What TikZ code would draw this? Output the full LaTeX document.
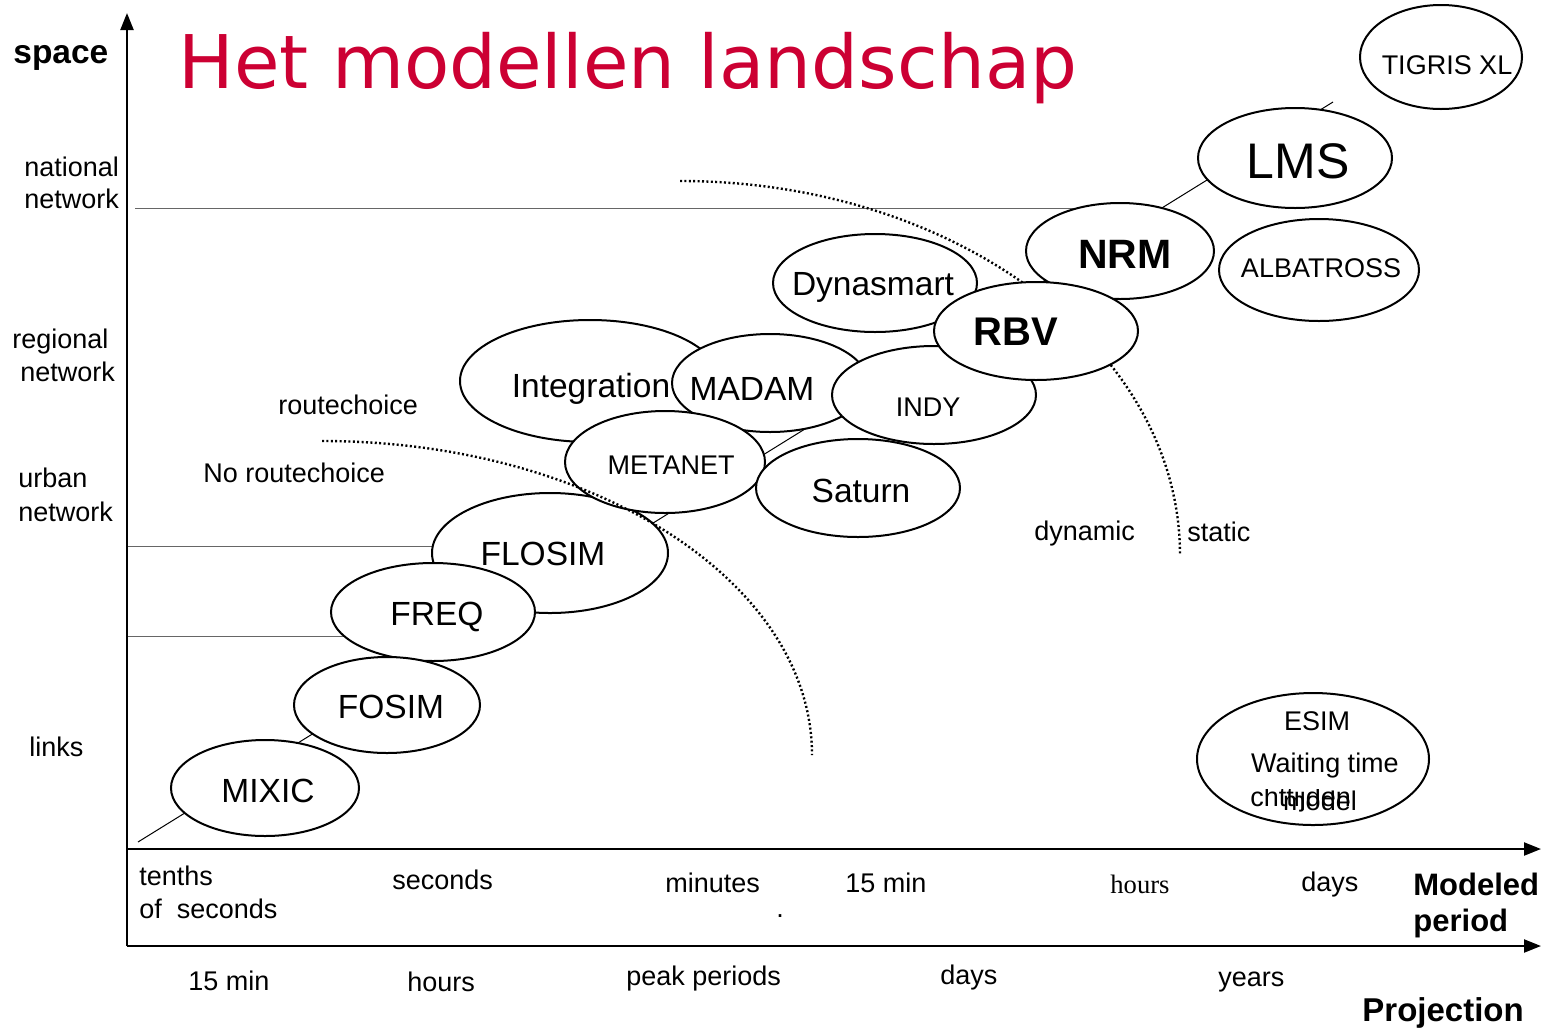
\documentclass[tikz,border=0pt]{standalone}
\usepackage{fontspec}
\setmainfont{Liberation Sans}
\newfontfamily\titlefont{DejaVu Sans}
\newfontfamily\timesfont{Liberation Serif}
\usetikzlibrary{shapes.geometric,arrows.meta}
\definecolor{titlered}{RGB}{204,0,51}
\newcommand\fs[1]{\fontsize{#1}{#1}\selectfont}
\pgfdeclarelayer{background}
\pgfsetlayers{background,main}
\begin{document}
\begin{tikzpicture}[x=0.5pt,y=-0.5pt,
  model/.style={ellipse,draw,line width=1pt,fill=white,inner sep=0pt},
  lbl/.style={inner sep=0pt,anchor=base west,font=\fs{13.5pt}},
  mtxt/.style={inner sep=0pt,anchor=base},
  axisline/.style={line width=1.1pt,-{Triangle[length=8.5pt,width=6.5pt]}},
  guide/.style={line width=0.5pt,black!60},
  diag/.style={line width=0.5pt,black},
  border/.style={line width=1.2pt,dash pattern=on 1pt off 1.2pt}]
\useasboundingbox (0,0) rectangle (1542,1029);

% title
\node[anchor=base west,inner sep=0pt,font=\titlefont\fs{37pt},text=titlered] (title) at (178,88) {Het modellen landschap};

% models (stacking order)
\node[model,minimum width=81pt,minimum height=52pt] (tigris) at (1441,57) {};
\node[mtxt,font=\fs{13.5pt}] (tigris-t) at (1447,74) {TIGRIS XL};
\node[model,minimum width=97pt,minimum height=50pt] (lms) at (1295,158) {};
\node[mtxt,font=\fs{25pt}] (lms-t) at (1298,178) {LMS};
\node[model,minimum width=100pt,minimum height=51pt] (albatross) at (1319,270) {};
\node[mtxt,font=\fs{13.5pt}] (albatross-t) at (1321,277) {ALBATROSS};
\node[model,minimum width=94pt,minimum height=48pt] (nrm) at (1120,251) {};
\node[mtxt,font=\bfseries\fs{20.5pt}] (nrm-t) at (1125,268) {NRM};
\node[model,minimum width=102pt,minimum height=49pt] (dynasmart) at (875,283) {};
\node[mtxt,font=\fs{16.75pt}] (dynasmart-t) at (873,295) {Dynasmart};
\node[model,minimum width=130pt,minimum height=61pt] (integration) at (590,381) {};
\node[mtxt,font=\fs{16.75pt}] (integration-t) at (591,397) {Integration};
\node[model,minimum width=98pt,minimum height=49pt] (madam) at (770,383) {};
\node[mtxt,font=\fs{16.75pt}] (madam-t) at (752,400) {MADAM};
\node[model,minimum width=102pt,minimum height=49pt] (indy) at (934,395) {};
\node[mtxt,font=\fs{13.5pt}] (indy-t) at (928,416) {INDY};
\node[model,minimum width=102pt,minimum height=49pt] (rbv) at (1036,331) {};
\node[mtxt,font=\bfseries\fs{20pt}] (rbv-t) at (1016,345) {RBV};
\node[model,minimum width=118pt,minimum height=60pt] (flosim) at (550,553) {};
\node[mtxt,font=\fs{16.75pt}] (flosim-t) at (543,565) {FLOSIM};
\node[model,minimum width=100pt,minimum height=51pt] (metanet) at (665,462) {};
\node[mtxt,font=\fs{13.5pt}] (metanet-t) at (671,474) {METANET};
\node[model,minimum width=102pt,minimum height=49pt] (saturn) at (858,488) {};
\node[mtxt,font=\fs{16.75pt}] (saturn-t) at (861,502) {Saturn};
\node[model,minimum width=102pt,minimum height=49pt] (freq) at (433,612) {};
\node[mtxt,font=\fs{16.75pt}] (freq-t) at (437,625) {FREQ};
\node[model,minimum width=93pt,minimum height=48pt] (fosim) at (387,705) {};
\node[mtxt,font=\fs{16.75pt}] (fosim-t) at (391,718) {FOSIM};
\node[model,minimum width=94pt,minimum height=48pt] (mixic) at (265,788) {};
\node[mtxt,font=\fs{16.75pt}] (mixic-t) at (268,802) {MIXIC};
\node[model,minimum width=116pt,minimum height=66pt] (esim) at (1313,759) {};
\node[mtxt,font=\fs{13.5pt}] (esim-t) at (1317,730) {ESIM};
\node[mtxt,font=\fs{13.5pt}] (esim-w) at (1325,772) {Waiting time};
\begin{scope}
  \clip (1240,789) rectangle (1380,815);
  \node[lbl] (esim-c) at (1250,806) {chttijden};
\end{scope}
\node[mtxt,font=\fs{13.5pt}] (esim-m) at (1320,810) {model};

% background lines behind the models
\coordinate (diagA) at (138,842);
\coordinate (diagB) at (1333,102);
\coordinate (natL) at (135,208);
\coordinate (urbL) at (128,546);
\coordinate (frqL) at (128,636);
\coordinate (dynA) at (680,181);
\begin{pgfonlayer}{background}
  \fill[white] (0,0) rectangle (1542,1029);
  \draw[diag] (diagA) -- (diagB);
  \draw[guide] (natL) -- (natL -| nrm.center);
  \draw[guide] (urbL) -- (urbL -| flosim.center);
  \draw[guide] (frqL) -- (frqL -| freq.center);
  \draw[border] (dynA) arc[start angle=-90,end angle=0,x radius=500,y radius=374] coordinate (dynB);
\end{pgfonlayer}

% route choice border (on top)
\coordinate (rcA) at (322,441);
\draw[border] (rcA) arc[start angle=-90,end angle=0,x radius=490,y radius=314] coordinate (rcB);

% axes
\coordinate (origin) at (127,946);
\coordinate (ytop) at (127,13);
\coordinate (m0) at (126,849);
\coordinate (m1) at (1541,849);
\coordinate (p1) at (1541,946);
\draw[axisline] (origin) -- (ytop);
\draw[axisline] (m0) -- (m1);
\draw[axisline] (origin) -- (p1);

% axis labels
\node[lbl,font=\bfseries\fs{16.75pt}] (space) at (13,63) {space};
\node[lbl] (nat1) at (24,176) {national};
\node[lbl] (nat2) at (24,208) {network};
\node[lbl] (reg1) at (12,348) {regional};
\node[lbl] (reg2) at (20,381) {network};
\node[lbl] (urb1) at (18,487) {urban};
\node[lbl] (urb2) at (18,521) {network};
\node[lbl] (links) at (29,756) {links};
\node[lbl] (rc) at (278,414) {routechoice};
\node[lbl] (norc) at (203,482) {No routechoice};
\node[lbl] (dyn) at (1034,540) {dynamic};
\node[lbl] (stat) at (1187,541) {static};

\node[lbl] (t1a) at (139,885) {tenths};
\node[lbl] (t1b) at (139,918) {of~~seconds};
\node[lbl] (t2) at (392,889) {seconds};
\node[lbl] (t3) at (665,892) {minutes};
\node[lbl] (t3dot) at (776,917) {.};
\node[lbl] (t4) at (845,892) {15 min};
\node[lbl,font=\timesfont\fs{13.3pt}] (t5) at (1110,893) {hours};
\node[lbl] (t6) at (1301,891) {days};
\node[lbl,font=\bfseries\fs{15.5pt}] (mp1) at (1413,895) {Modeled};
\node[lbl,font=\bfseries\fs{15.5pt}] (mp2) at (1413,931) {period};

\node[lbl] (q1) at (188,990) {15 min};
\node[lbl] (q2) at (407,991) {hours};
\node[lbl] (q3) at (626,985) {peak periods};
\node[lbl] (q4) at (940,984) {days};
\node[lbl] (q5) at (1218,986) {years};
\node[lbl,font=\bfseries\fs{16.5pt}] (proj) at (1362,1021) {Projection};
\end{tikzpicture}
\end{document}
